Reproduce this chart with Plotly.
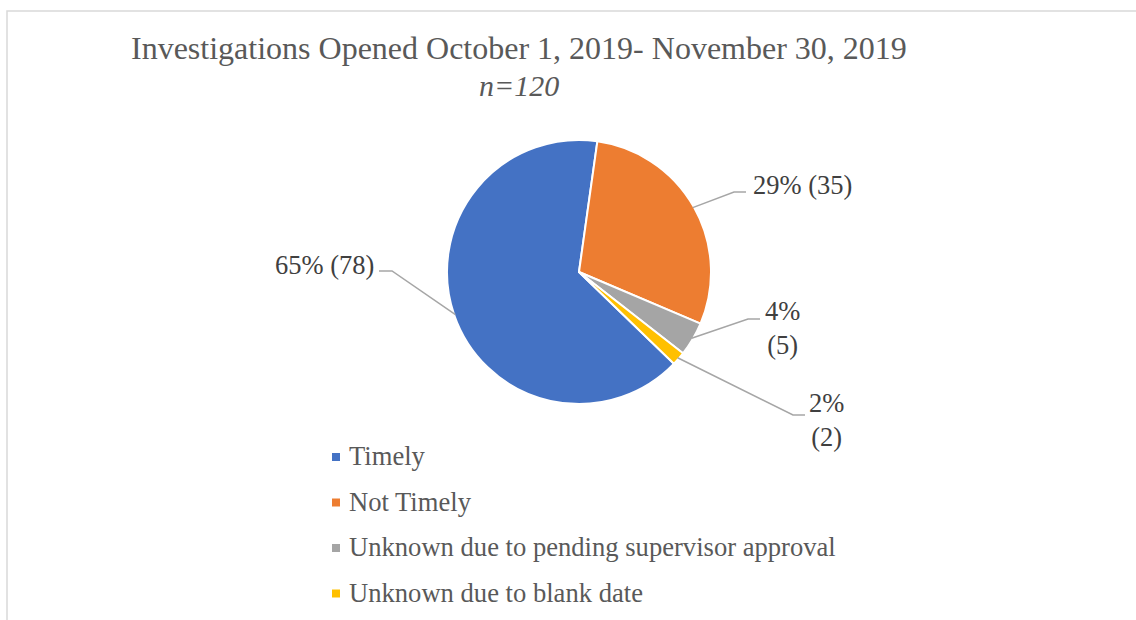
import math
import plotly.graph_objects as go

# ---- data ----
categories = ["Timely", "Not Timely", "Unknown due to pending supervisor approval", "Unknown due to blank date"]
counts = [78, 35, 5, 2]
colors = ["#4472C4", "#ED7D31", "#A5A5A5", "#FFC000"]
title_text = "Investigations Opened October 1, 2019- November 30, 2019"
subtitle_text = "n=120"

# ---- layout constants (pixels) ----
W, H = 1136, 620
CX, CY, R = 579, 272, 132
START_ANGLE = 134  # clockwise from 12 o'clock, first slice
# label anchor (x, y) in px, xanchor, and the elbow of the leader line
label_pos = [(376, 265, "right"), (751, 185, "left"), (782, 328, "center"), (826, 420, "center")]
elbows = [(392, 271, 379), (734, 192, 746), (748, 319, 760), (793, 415, 805)]
wrap = [False, False, True, True]

def px(x):
    return x / W

def py(y):
    return 1 - y / H

total = sum(counts)
fig = go.Figure()
fig.add_trace(go.Pie(
    labels=categories, values=counts, sort=False, direction="clockwise",
    rotation=START_ANGLE, textinfo="none", hoverinfo="label+value+percent",
    marker=dict(colors=colors, line=dict(color="white", width=2)),
    domain=dict(x=[px(CX - R), px(CX + R)], y=[py(CY + R), py(CY - R)]),
    showlegend=False,
))

shapes = []
annotations = []
lead_color = "#A6A6A6"
lab_font = dict(family="Liberation Serif", size=26.5, color="#404040")

cum = 0
for i, v in enumerate(counts):
    mid = START_ANGLE + (cum + v / 2) / total * 360
    cum += v
    a = math.radians(mid)
    sx = CX + R * 0.99 * math.sin(a)
    sy = CY - R * 0.99 * math.cos(a)
    ex, ey, hx = elbows[i]
    shapes.append(dict(type="path", xref="paper", yref="paper",
                       path=f"M {px(sx)} {py(sy)} L {px(ex)} {py(ey)} L {px(hx)} {py(ey)}",
                       line=dict(color=lead_color, width=1.5)))
    pct = round(v / total * 100)
    txt = f"{pct}%<br>({v})" if wrap[i] else f"{pct}% ({v})"
    lx, ly, xa = label_pos[i]
    annotations.append(dict(text=txt, x=px(lx), y=py(ly), xref="paper", yref="paper",
                            xanchor=xa, yanchor="middle", showarrow=False, align="center",
                            font=lab_font))

# manual legend
LEG_X, LEG_Y0, LEG_DY, SQ = 332, 457, 45.5, 8
for i, cat in enumerate(categories):
    yc = LEG_Y0 + i * LEG_DY
    shapes.append(dict(type="rect", xref="paper", yref="paper",
                       x0=px(LEG_X), x1=px(LEG_X + SQ), y0=py(yc - SQ / 2), y1=py(yc + SQ / 2),
                       fillcolor=colors[i], line=dict(width=0)))
    annotations.append(dict(text=cat, x=px(LEG_X + 15), y=py(yc - 1), xref="paper", yref="paper",
                            xanchor="left", yanchor="middle", showarrow=False,
                            font=dict(family="Liberation Serif", size=26.6, color="#595959")))

# title
annotations.append(dict(text=title_text, x=px(519), y=py(48), xref="paper", yref="paper",
                        xanchor="center", yanchor="middle", showarrow=False,
                        font=dict(family="Liberation Serif", size=32, color="#595959")))
annotations.append(dict(text=f"<i>{subtitle_text}</i>", x=px(519), y=py(86), xref="paper", yref="paper",
                        xanchor="center", yanchor="middle", showarrow=False,
                        font=dict(family="Liberation Serif", size=30, color="#595959")))

# chart border (partially visible)
shapes.append(dict(type="rect", xref="paper", yref="paper", x0=px(7), y0=py(11), x1=1.02, y1=-0.02,
                   line=dict(color="#D9D9D9", width=1.5)))

fig.update_layout(
    width=W, height=H, margin=dict(l=0, r=0, t=0, b=0),
    paper_bgcolor="white", plot_bgcolor="white",
    shapes=shapes, annotations=annotations, showlegend=False,
)
fig.write_html("out.html", config={"displayModeBar": False},
               post_script="document.body.style.margin='0';document.body.style.overflow='hidden';")
